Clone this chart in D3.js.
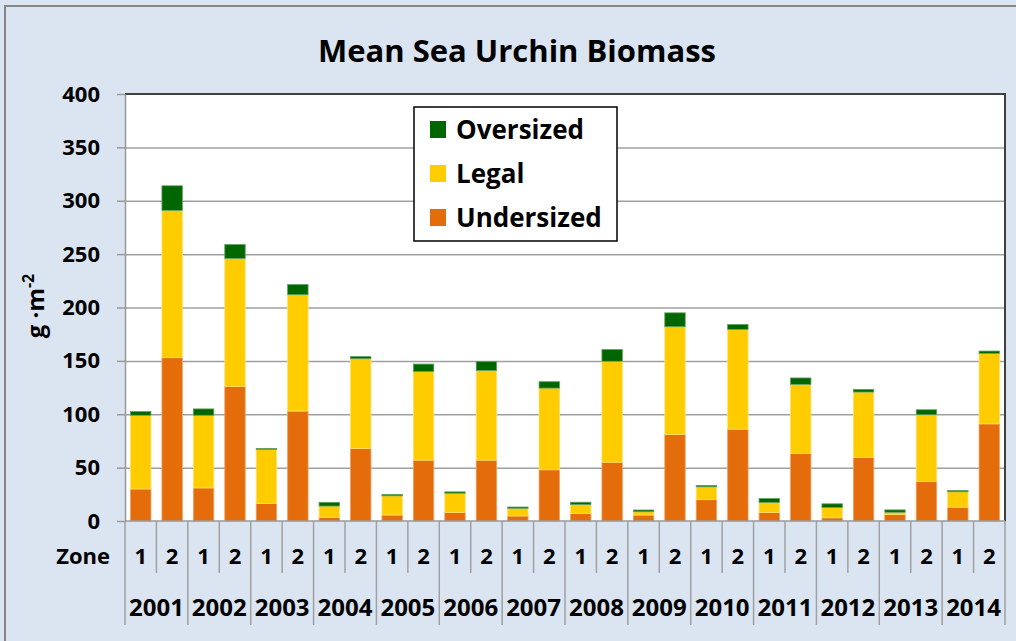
<!DOCTYPE html>
<html>
<head>
<meta charset="utf-8">
<script src="https://cdn.jsdelivr.net/npm/d3@7"></script>
<style>
  body { margin: 0; background: #dbe5f1; }
  text { font-family: "Open Sans", "Noto Sans", sans-serif; font-weight: bold; fill: #000; }
</style>
</head>
<body>
<div class="chart"></div>
<script>
// values (g per square metre), one entry per year/zone bar
var years = ["2001", "2002", "2003", "2004", "2005", "2006", "2007",
             "2008", "2009", "2010", "2011", "2012", "2013", "2014"];
var zones = ["1", "2"];
var undersized = [30, 153, 31, 126, 16.5, 103, 3.5, 68, 5.6, 57, 8, 57, 4.7, 48,
                  7, 55, 5.6, 81, 20, 86, 8, 63.4, 3, 59.6, 6, 37, 13, 91];
var legal = [69, 138, 68, 120, 50.5, 109, 10.5, 84, 18, 83, 18, 84, 7.2, 76.5,
             8.4, 94.6, 3.1, 101, 12, 93.5, 9.4, 64.6, 9.7, 61.2, 2.2, 62.5, 14.4, 66];
var oversized = [3.5, 23, 6, 13, 1, 9.5, 3.5, 2, 1.3, 7, 1.3, 8.5, 1.2, 6,
                 2.2, 11, 1.6, 13, 1.3, 4.6, 3.7, 6, 3.4, 2.5, 2.2, 4.7, 1.2, 2.2];
var seriesNames = ["Undersized", "Legal", "Oversized"];
var yTicks = [0, 50, 100, 150, 200, 250, 300, 350, 400];

var width = 1016,
  height = 641;
var plot = { left: 125, right: 1005, top: 94, bottom: 521 };

var colors = { Undersized: "#e46c0a", Legal: "#ffcc00", Oversized: "#006600" };
var strokes = { Undersized: "#f0a060", Legal: "#ffe070", Oversized: "#60a060" };

// build the table the stack wants
var table = [];
years.forEach(function (y, yi) {
  zones.forEach(function (z, zi) {
    var i = yi * zones.length + zi;
    table.push({
      key: y + "-" + z,
      year: y,
      zone: z,
      Undersized: undersized[i],
      Legal: legal[i],
      Oversized: oversized[i],
    });
  });
});

var svg = d3
  .select(".chart")
  .append("svg")
  .attr("width", width)
  .attr("height", height);

// chart frame (runs off the right and bottom edges like the original)
svg
  .append("rect")
  .attr("x", 5)
  .attr("y", 6)
  .attr("width", 1100)
  .attr("height", 700)
  .attr("fill", "#dbe5f1")
  .attr("stroke", "#868686")
  .attr("stroke-width", 2);

var x = d3
  .scaleBand()
  .domain(table.map(function (d) { return d.key; }))
  .range([plot.left, plot.right])
  .paddingInner(0.35)
  .paddingOuter(0.175);

var y = d3.scaleLinear().domain([0, 400]).range([plot.bottom, plot.top]);

svg
  .append("rect")
  .attr("x", plot.left)
  .attr("y", plot.top)
  .attr("width", plot.right - plot.left)
  .attr("height", plot.bottom - plot.top)
  .attr("fill", "#fff");

// gridlines
svg
  .append("g")
  .attr("class", "grid")
  .attr("transform", "translate(" + plot.left + ",0)")
  .call(
    d3.axisLeft(y)
      .tickValues(yTicks.slice(1, -1))
      .tickSize(-(plot.right - plot.left))
      .tickFormat("")
  )
  .call(function (g) { g.select(".domain").remove(); })
  .selectAll("line")
  .attr("stroke", "#a0a0a0")
  .attr("stroke-width", 1.5);

// bars
var stack = d3.stack().keys(seriesNames);
var layers = stack(table);

svg
  .append("g")
  .selectAll("g")
  .data(layers)
  .join("g")
  .attr("fill", function (d) { return colors[d.key]; })
  .attr("stroke", function (d) { return strokes[d.key]; })
  .attr("stroke-width", 0.8)
  .selectAll("rect")
  .data(function (d) { return d; })
  .join("rect")
  .attr("x", function (d) { return x(d.data.key); })
  .attr("y", function (d) { return y(d[1]); })
  .attr("width", x.bandwidth())
  .attr("height", function (d) { return y(d[0]) - y(d[1]); });

// plot border: dark top and right, grey left axis and baseline
svg
  .append("path")
  .attr("d", "M" + plot.left + "," + plot.top + "H" + plot.right + "V" + plot.bottom)
  .attr("fill", "none")
  .attr("stroke", "#404040")
  .attr("stroke-width", 2);

// y axis
var yAxis = svg
  .append("g")
  .attr("transform", "translate(" + plot.left + ",0)")
  .call(d3.axisLeft(y).tickValues(yTicks).tickSize(8).tickPadding(17).tickSizeOuter(0));
yAxis.select(".domain").attr("stroke", "#999").attr("stroke-width", 1.5);
yAxis.selectAll("line").attr("stroke", "#999").attr("stroke-width", 1.5);
yAxis
  .selectAll("text")
  .style("font-family", "'Open Sans', sans-serif")
  .style("font-weight", "bold")
  .style("font-size", "22px")
  .attr("fill", "#000");

svg
  .append("line")
  .attr("x1", plot.left)
  .attr("x2", plot.right)
  .attr("y1", plot.bottom)
  .attr("y2", plot.bottom)
  .attr("stroke", "#999")
  .attr("stroke-width", 1.5);

// y axis title
var yTitle = svg
  .append("text")
  .attr("transform", "translate(44,306) rotate(-90)")
  .attr("text-anchor", "middle")
  .style("font-size", "24px");
yTitle.append("tspan").text("g \u00b7m");
yTitle
  .append("tspan")
  .attr("dy", -10)
  .style("font-size", "16px")
  .text("-2");

// x axis: zone row and year row, with separators taken from the band scale
var half = (x.step() - x.bandwidth()) / 2;
var xAxis = svg.append("g");

xAxis
  .selectAll(".zone")
  .data(table)
  .join("text")
  .attr("class", "zone")
  .attr("x", function (d) { return x(d.key) + x.bandwidth() / 2; })
  .attr("y", 564)
  .attr("text-anchor", "middle")
  .style("font-size", "22px")
  .text(function (d) { return d.zone; });

xAxis
  .selectAll(".sep")
  .data(table)
  .join("line")
  .attr("class", "sep")
  .attr("x1", function (d) { return x(d.key) - half; })
  .attr("x2", function (d) { return x(d.key) - half; })
  .attr("y1", plot.bottom)
  .attr("y2", function (d) { return d.zone === zones[0] ? 625 : 573; })
  .attr("stroke", "#a0a0a0")
  .attr("stroke-width", 1.5);

xAxis
  .append("line")
  .attr("x1", plot.right)
  .attr("x2", plot.right)
  .attr("y1", plot.bottom)
  .attr("y2", 625)
  .attr("stroke", "#a0a0a0")
  .attr("stroke-width", 1.5);

xAxis
  .selectAll(".year")
  .data(years)
  .join("text")
  .attr("class", "year")
  .attr("x", function (d) { return x(d + "-" + zones[0]) - half + x.step(); })
  .attr("y", 616)
  .attr("text-anchor", "middle")
  .style("font-size", "24px")
  .text(function (d) { return d; });

svg
  .append("text")
  .attr("x", 110)
  .attr("y", 564)
  .attr("text-anchor", "end")
  .style("font-size", "22px")
  .text("Zone");

// title
svg
  .append("text")
  .attr("x", 517)
  .attr("y", 62)
  .attr("text-anchor", "middle")
  .style("font-size", "31px")
  .text("Mean Sea Urchin Biomass");

// legend, top entry is Oversized
var legend = svg.append("g").attr("transform", "translate(414,107)");
legend
  .append("rect")
  .attr("width", 203)
  .attr("height", 134)
  .attr("fill", "#fff")
  .attr("stroke", "#000")
  .attr("stroke-width", 1.5);

var items = legend
  .selectAll(".item")
  .data(seriesNames.slice().reverse())
  .join("g")
  .attr("class", "item")
  .attr("transform", function (d, i) { return "translate(16," + (14 + i * 44) + ")"; });

items
  .append("rect")
  .attr("width", 16)
  .attr("height", 17)
  .attr("fill", function (d) { return colors[d]; });

items
  .append("text")
  .attr("x", 26)
  .attr("y", 18)
  .style("font-size", "26px")
  .text(function (d) { return d; });
</script>
</body>
</html>
